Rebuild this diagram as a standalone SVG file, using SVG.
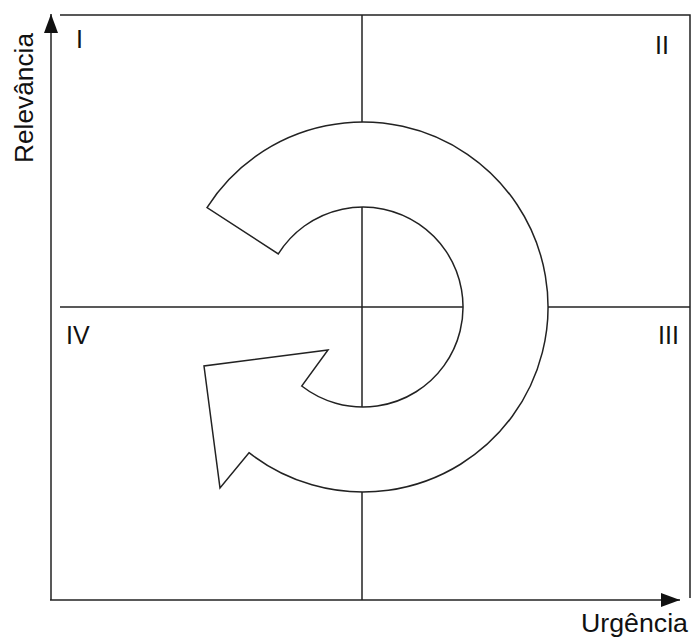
<svg xmlns="http://www.w3.org/2000/svg" width="694" height="637" viewBox="0 0 694 637">
  <style>
    .ln { stroke: #222; stroke-width: 1.5; fill: none; }
    .lbl { font-family: "Liberation Sans", Arial, sans-serif; font-size: 25px; fill: #111; }
    .ax { font-size: 26px; }
  </style>
  <defs>
    <marker id="ah" viewBox="0 0 19 14" refX="19" refY="7" markerWidth="19" markerHeight="14" markerUnits="userSpaceOnUse" orient="auto">
      <path d="M0,0 L19,7 L0,14 Z" fill="#111"/>
    </marker>
  </defs>
  <rect width="694" height="637" fill="#fff"/>
  <g id="connectors">
    <line class="ln" x1="51" y1="600" x2="51" y2="14" marker-end="url(#ah)"/>
    <line class="ln" x1="50" y1="600" x2="680" y2="600" marker-end="url(#ah)"/>
    <polyline class="ln" points="60,15 690,15 690,598"/>
    <line class="ln" x1="60" y1="307" x2="690" y2="307"/>
    <line class="ln" x1="362" y1="15" x2="362" y2="600"/>
  </g>
  <g id="cycle">
    <path d="M207,207.6 A185,185 0 1 1 249,452.7 L220,488 L204,366 L328,350 L301.7,386 A100,100 0 1 0 278.3,253.9 Z" fill="#fff" stroke="#222" stroke-width="1.5" stroke-linejoin="miter"/>
  </g>
  <g id="q1"><text class="lbl" x="76" y="48">I</text></g>
  <g id="q2"><text class="lbl" x="655" y="54">II</text></g>
  <g id="q3"><text class="lbl" x="658" y="344">III</text></g>
  <g id="q4"><text class="lbl" x="66" y="344">IV</text></g>
  <g id="y-axis-label"><text class="lbl ax" transform="translate(33,163) rotate(-90)" textLength="130" lengthAdjust="spacingAndGlyphs">Relevância</text></g>
  <g id="x-axis-label"><text class="lbl ax" x="581" y="632" textLength="107" lengthAdjust="spacingAndGlyphs">Urgência</text></g>
</svg>
